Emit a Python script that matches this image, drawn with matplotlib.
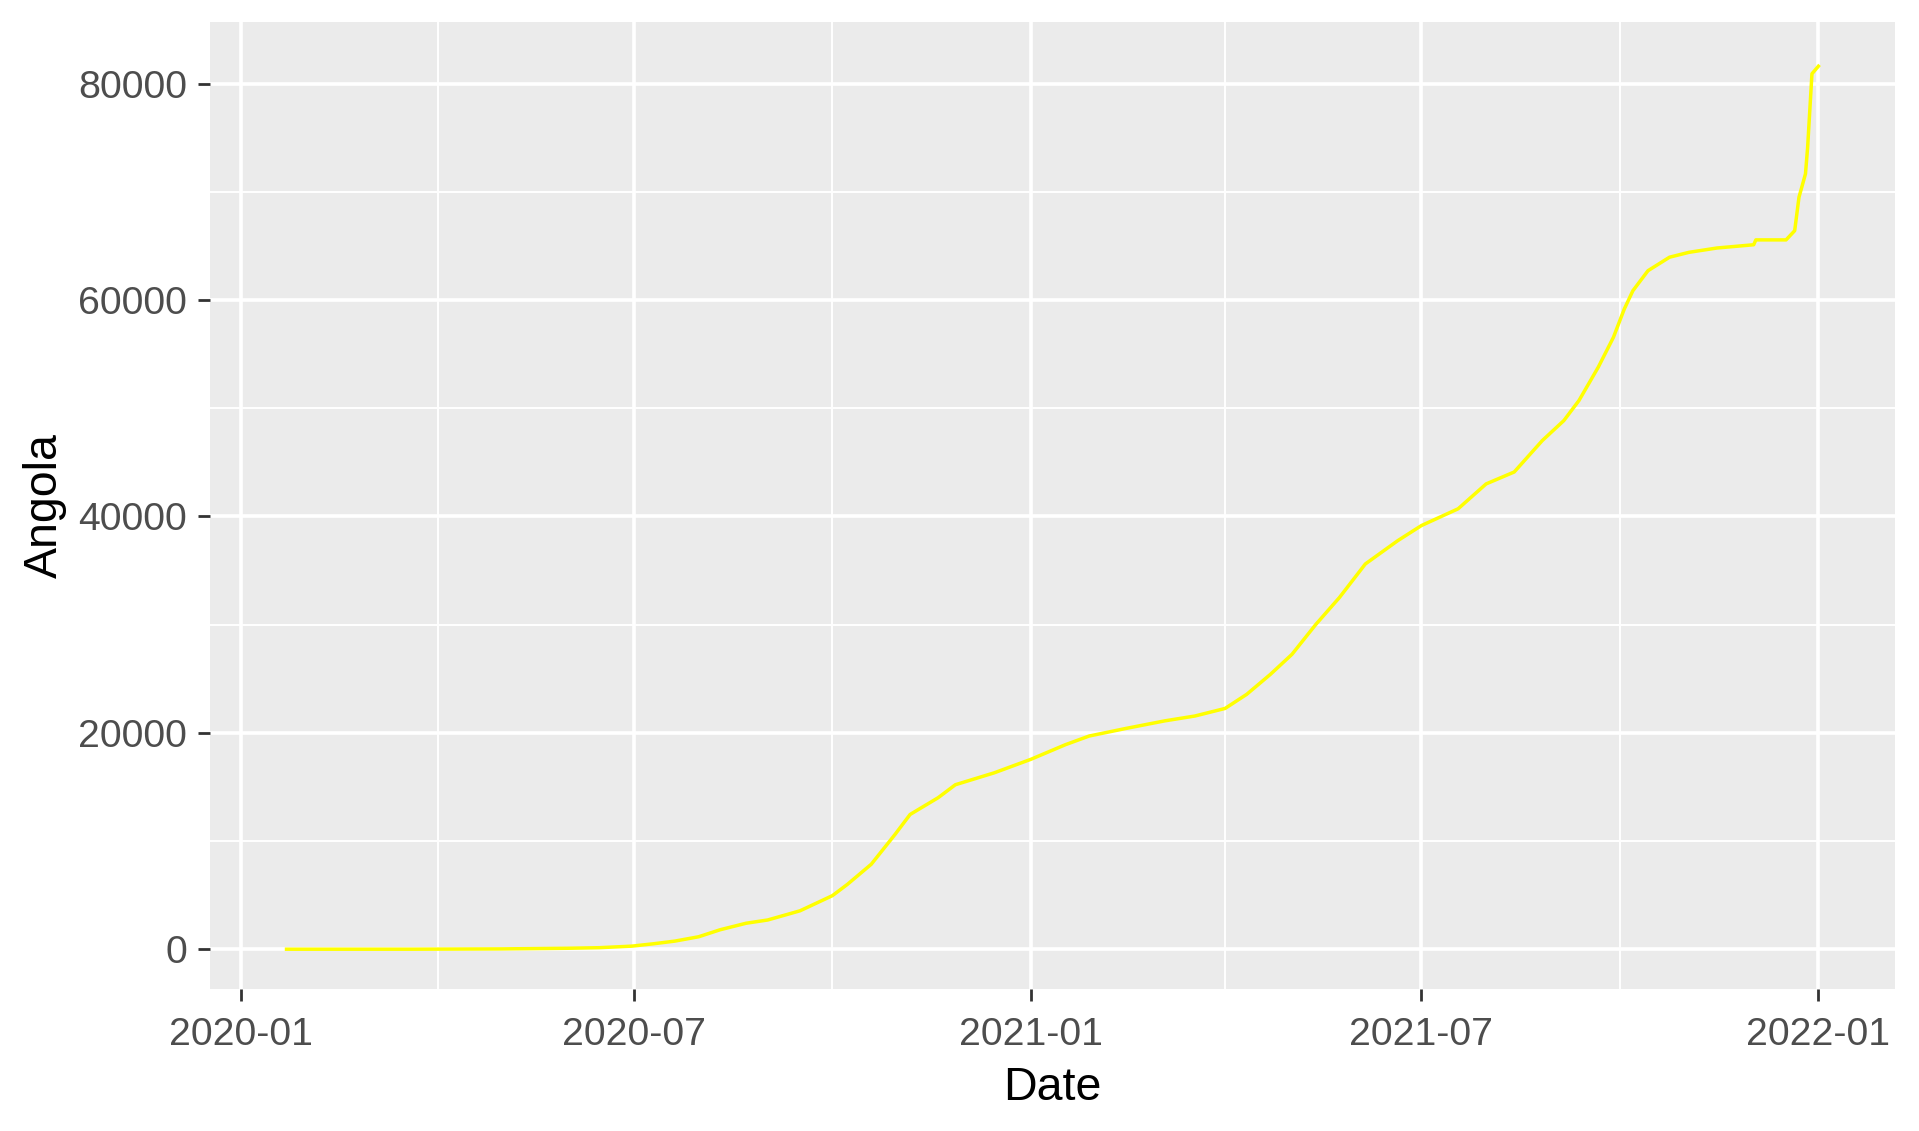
import pandas as pd
import matplotlib
matplotlib.use('Agg')
import matplotlib.pyplot as plt
import matplotlib.dates as mdates

# Casos acumulados de Angola
dates = ['2020-01-22', '2020-03-20', '2020-04-30', '2020-05-31', '2020-06-15',
         '2020-06-30', '2020-07-10', '2020-07-20', '2020-07-31', '2020-08-10',
         '2020-08-22', '2020-09-01', '2020-09-16', '2020-10-01', '2020-10-08',
         '2020-10-19', '2020-10-30', '2020-11-06', '2020-11-19', '2020-11-27',
         '2020-12-15', '2021-01-01', '2021-01-17', '2021-01-28', '2021-02-14',
         '2021-03-04', '2021-03-18', '2021-04-01', '2021-04-11', '2021-04-22',
         '2021-05-02', '2021-05-13', '2021-05-24', '2021-06-05', '2021-06-20',
         '2021-07-01', '2021-07-18', '2021-07-31', '2021-08-13', '2021-08-26',
         '2021-09-05', '2021-09-12', '2021-09-21', '2021-09-28', '2021-10-03',
         '2021-10-07', '2021-10-14', '2021-10-24', '2021-11-02', '2021-11-15',
         '2021-12-02', '2021-12-03', '2021-12-17', '2021-12-21', '2021-12-23',
         '2021-12-26', '2021-12-27', '2021-12-29', '2022-01-01']
angola = [0, 1, 27, 86, 140,
          284, 500, 750, 1150, 1800,
          2400, 2700, 3550, 4950, 6000,
          7850, 10600, 12450, 14000, 15200,
          16300, 17550, 18900, 19700, 20400,
          21100, 21550, 22250, 23550, 25400,
          27250, 30000, 32500, 35600, 37750,
          39150, 40700, 43000, 44100, 47000,
          48850, 50700, 53800, 56550, 59150,
          60850, 62700, 63950, 64400, 64800,
          65100, 65550, 65550, 66400, 69500,
          71650, 74100, 80900, 81600]

x_major = ['2020-01-01', '2020-07-01', '2021-01-01', '2021-07-01', '2022-01-01']
x_minor = ['2020-04-01', '2020-10-01', '2021-04-01', '2021-10-01']
y_major = [0, 20000, 40000, 60000, 80000]
y_minor = [10000, 30000, 50000, 70000]

df = pd.DataFrame({'Date': pd.to_datetime(dates), 'Angola': angola})

plt.rcParams['font.family'] = ['Liberation Sans', 'DejaVu Sans']

fig = plt.figure(figsize=(19.19, 11.31), dpi=100)
ax = fig.add_axes([0.1094, 0.1256, 0.8781, 0.8549])
ax.set_facecolor('#EBEBEB')

ax.plot(df['Date'], df['Angola'], color='#FFFF00', linewidth=2.5, zorder=3)

# expansao de 5% estilo ggplot
xn = mdates.date2num(df['Date'])
xr = xn.max() - xn.min()
ax.set_xlim(xn.min() - 0.05 * xr, xn.max() + 0.05 * xr)
yr = df['Angola'].max() - df['Angola'].min()
ax.set_ylim(df['Angola'].min() - 0.045 * yr, df['Angola'].max() + 0.05 * yr)

ax.set_xticks(mdates.date2num(pd.to_datetime(x_major)))
ax.set_xticks(mdates.date2num(pd.to_datetime(x_minor)), minor=True)
ax.xaxis.set_major_formatter(mdates.DateFormatter('%Y-%m'))
ax.set_yticks(y_major)
ax.set_yticks(y_minor, minor=True)

ax.grid(which='major', color='white', linewidth=2.6)
ax.grid(which='minor', color='white', linewidth=1.4)
ax.set_axisbelow(True)

for s in ax.spines.values():
    s.set_visible(False)

ax.tick_params(which='major', length=8.5, width=2, color='#333333',
               labelsize=28.3, labelcolor='#4D4D4D')
ax.tick_params(axis='x', which='major', pad=12)
ax.tick_params(axis='y', which='major', pad=8)
ax.tick_params(which='minor', length=0)

ax.set_xlabel('Date', fontsize=33.5, color='black', labelpad=9)
ax.set_ylabel('Angola', fontsize=33.5, color='black', labelpad=8)

fig.savefig('out.png', dpi=100)
